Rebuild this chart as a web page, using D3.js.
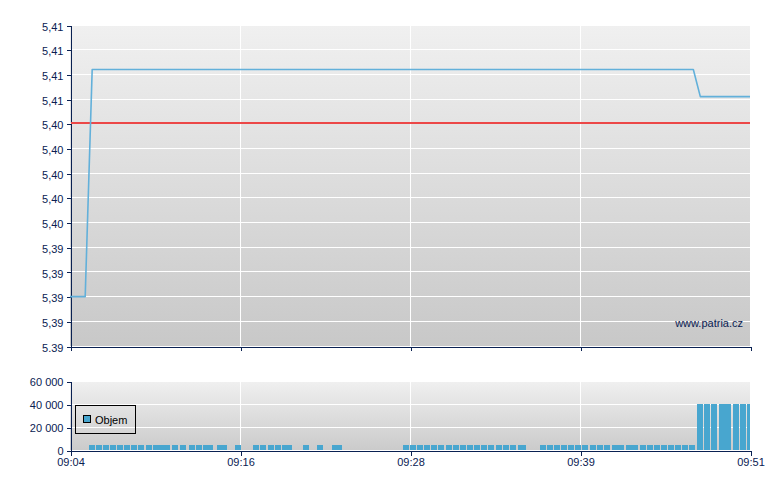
<!DOCTYPE html>
<html><head><meta charset="utf-8">
<script src="https://cdn.jsdelivr.net/npm/d3@7"></script>
<style>
body{margin:0;background:#fff}
svg{display:block}
text{font-family:"Liberation Sans",Arial,sans-serif;font-size:11px}
</style>
</head><body>
<svg id="c" width="780" height="490"></svg>
<script>
// ---------- data ----------
const timeStart = "09:04:00", timeEnd = "09:51:00";
const xTickLabels = ["09:04","09:16","09:28","09:39","09:51"];

const priceTimes  = ["09:04:00","09:05:03","09:05:32","09:47:05","09:47:34","09:51:00"];
const priceValues = [5.390, 5.390, 5.4084, 5.4084, 5.4062, 5.4062];
const refPrice = 5.404;

const priceTicks = [5.386,5.388,5.390,5.392,5.394,5.396,5.398,5.400,5.402,5.404,5.406,5.408,5.410,5.412];
const priceTickLabels = ["5.39","5,39","5,39","5,39","5,39","5,40","5,40","5,40","5,40","5,40","5,41","5,41","5,41","5,41"];

const volTimes = [
 "09:05:19","09:05:48","09:06:17","09:06:46","09:07:15","09:07:44","09:08:13","09:08:42",
 "09:09:15","09:09:44","09:10:07","09:10:30","09:11:03","09:11:36","09:12:13","09:12:43",
 "09:13:12","09:13:28","09:14:10","09:14:26","09:15:24","09:16:39","09:17:08","09:17:41",
 "09:18:10","09:18:39","09:18:56","09:20:06","09:21:04","09:22:07","09:22:23",
 "09:27:01","09:27:30","09:27:59","09:28:28","09:28:57","09:29:26","09:29:59","09:30:28",
 "09:30:57","09:31:26","09:31:55","09:32:24","09:32:53","09:33:27","09:33:56","09:34:25",
 "09:34:58","09:35:06",
 "09:36:29","09:36:58","09:37:27","09:37:56","09:38:25","09:38:54","09:39:23","09:39:56",
 "09:40:25","09:40:55","09:41:28","09:41:53","09:42:26","09:42:51","09:43:24","09:43:53",
 "09:44:22","09:44:51","09:45:20","09:45:49","09:46:18","09:46:47",
 "09:47:20","09:47:49","09:48:18","09:48:51","09:49:16","09:49:50","09:50:19","09:50:48"
];
const volValues = [
 4300,4300,4300,4300,4300,4300,4300,4300,
 4300,4300,4300,4300,4300,4300,4300,4300,
 4300,4300,4300,4300,4300,4300,4300,4300,
 4300,4300,4300,4300,4300,4300,4300,
 4300,4300,4300,4300,4300,4300,4300,4300,
 4300,4300,4300,4300,4300,4300,4300,4300,
 4300,4300,
 4300,4300,4300,4300,4300,4300,4300,4300,
 4300,4300,4300,4300,4300,4300,4300,4300,
 4300,4300,4300,4300,4300,4300,
 40000,40000,40000,40000,40000,40000,40000,40000
];
const volTicks = [0,20000,40000,60000];
const volTickLabels = ["0","20 000","40 000","60 000"];
const legendLabel = "Objem";
const watermark = "www.patria.cz";

// ---------- drawing ----------
const parse = d3.timeParse("%H:%M:%S");
const AX = "#0a2152", BAR = "#48a6cf", LINE = "#62b0da", RED = "#ec4848";
const L = 70, R = 750;
const mainTop = 25, mainBot = 346, volTop = 381, volBot = 450;

const svg = d3.select("#c");
const t0 = parse(timeStart), t1 = parse(timeEnd);
const x = d3.scaleTime().domain([t0, t1]).range([L, R]);
const xTickVals = d3.range(xTickLabels.length).map(i => new Date(+t0 + i * (t1 - t0) / (xTickLabels.length - 1)));

const yP = d3.scaleLinear().domain([priceTicks[0], priceTicks[priceTicks.length-1]]).range([mainBot, mainTop]);
const yV = d3.scaleLinear().domain([volTicks[0], volTicks[volTicks.length-1]]).range([volBot, volTop]);

const defs = svg.append("defs");
function grad(id, c1, c2){
  const g = defs.append("linearGradient").attr("id", id).attr("x1",0).attr("y1",0).attr("x2",0).attr("y2",1);
  g.append("stop").attr("offset","0%").attr("stop-color",c1);
  g.append("stop").attr("offset","100%").attr("stop-color",c2);
}
grad("gMain", "#f0f0f0", "#c8c8c8");
grad("gVol", "#f0f0f0", "#cbcbcb");
defs.append("clipPath").attr("id","clipMain").append("rect").attr("x",L).attr("y",mainTop).attr("width",R-L).attr("height",mainBot-mainTop);
defs.append("clipPath").attr("id","clipVol").append("rect").attr("x",L).attr("y",volTop).attr("width",R-L).attr("height",volBot-volTop);

const crisp = v => Math.floor(v) + 0.5;

function panel(top, bot, fill, yScale, ticks){
  svg.append("rect").attr("x",L).attr("y",top).attr("width",R-L).attr("height",bot-top).attr("fill",`url(#${fill})`);
  const g = svg.append("g").attr("shape-rendering","crispEdges");
  g.selectAll("line.h").data(ticks).join("line").attr("class","h")
    .attr("x1",L).attr("x2",R).attr("y1",d=>crisp(yScale(d))).attr("y2",d=>crisp(yScale(d)))
    .attr("stroke","#fff").attr("stroke-width",1);
  g.selectAll("line.v").data(xTickVals.slice(1, -1)).join("line").attr("class","v")
    .attr("y1",top).attr("y2",bot).attr("x1",d=>crisp(x(d))).attr("x2",d=>crisp(x(d)))
    .attr("stroke","#fff").attr("stroke-width",1);
}
panel(mainTop, mainBot, "gMain", yP, priceTicks);
panel(volTop, volBot, "gVol", yV, volTicks);

// watermark
svg.append("text").attr("x",743).attr("y",327).attr("text-anchor","end").attr("fill",AX).text(watermark);

// volume bars
const vols = volTimes.map((t,i)=>({t:parse(t), v:volValues[i]}));
svg.append("g").attr("clip-path","url(#clipVol)").attr("shape-rendering","crispEdges")
  .selectAll("rect").data(vols).join("rect")
  .attr("x",d=>Math.round(x(d.t))).attr("width",6)
  .attr("y",d=>Math.round(yV(d.v))).attr("height",d=>Math.round(yV(0))-Math.round(yV(d.v)))
  .attr("fill",BAR);

// axes
function styleAxis(g){
  g.attr("shape-rendering","crispEdges");
  g.select(".domain").attr("stroke",AX);
  g.selectAll(".tick line").attr("stroke",AX);
  g.selectAll(".tick text").attr("fill",AX).style("font-family",'"Liberation Sans",Arial,sans-serif').style("font-size","11px");
}
const yAxisP = d3.axisLeft(yP).tickValues(priceTicks).tickFormat((d,i)=>priceTickLabels[i]).tickSize(4).tickSizeOuter(0).tickPadding(3);
svg.append("g").attr("transform",`translate(${L+0.5},0.5)`).call(yAxisP).call(styleAxis)
  .selectAll(".tick text").attr("dy","0.42em");
const yAxisV = d3.axisLeft(yV).tickValues(volTicks).tickFormat((d,i)=>volTickLabels[i]).tickSize(4).tickSizeOuter(0).tickPadding(3);
svg.append("g").attr("transform",`translate(${L+0.5},0.5)`).call(yAxisV).call(styleAxis)
  .selectAll(".tick text").attr("dy","0.32em");

const xAxisMain = d3.axisBottom(x).tickValues(xTickVals).tickFormat("").tickSize(4).tickSizeOuter(0);
svg.append("g").attr("transform",`translate(0.5,${mainBot+0.5})`).call(xAxisMain).call(styleAxis);
const xAxisVol = d3.axisBottom(x).tickValues(xTickVals).tickFormat((d,i)=>xTickLabels[i]).tickSize(5).tickSizeOuter(0).tickPadding(3);
svg.append("g").attr("transform",`translate(0.5,${volBot+0.5})`).call(xAxisVol).call(styleAxis);

// reference line (previous close)
const yRef = Math.floor(yP(refPrice));
svg.append("rect").attr("shape-rendering","crispEdges")
  .attr("x",L+1).attr("width",R-L-1).attr("y",yRef-1).attr("height",2)
  .attr("fill",RED);

// price line
const pts = priceTimes.map((t,i)=>[parse(t), priceValues[i]]);
svg.append("path").attr("clip-path","url(#clipMain)")
  .attr("d", d3.line().x(d=>x(d[0])).y(d=>yP(d[1]))(pts))
  .attr("fill","none").attr("stroke",LINE).attr("stroke-width",1.6).attr("stroke-linejoin","round");

// legend
const lg = svg.append("g").attr("shape-rendering","crispEdges");
lg.append("rect").attr("x",75.5).attr("y",405.5).attr("width",60).attr("height",28).attr("fill","none").attr("stroke","#000");
lg.append("rect").attr("x",83.5).attr("y",415.5).attr("width",7).attr("height",7).attr("fill",BAR).attr("stroke","#000");
lg.append("text").attr("x",95).attr("y",424).attr("fill","#000").text(legendLabel);
</script>
</body></html>
